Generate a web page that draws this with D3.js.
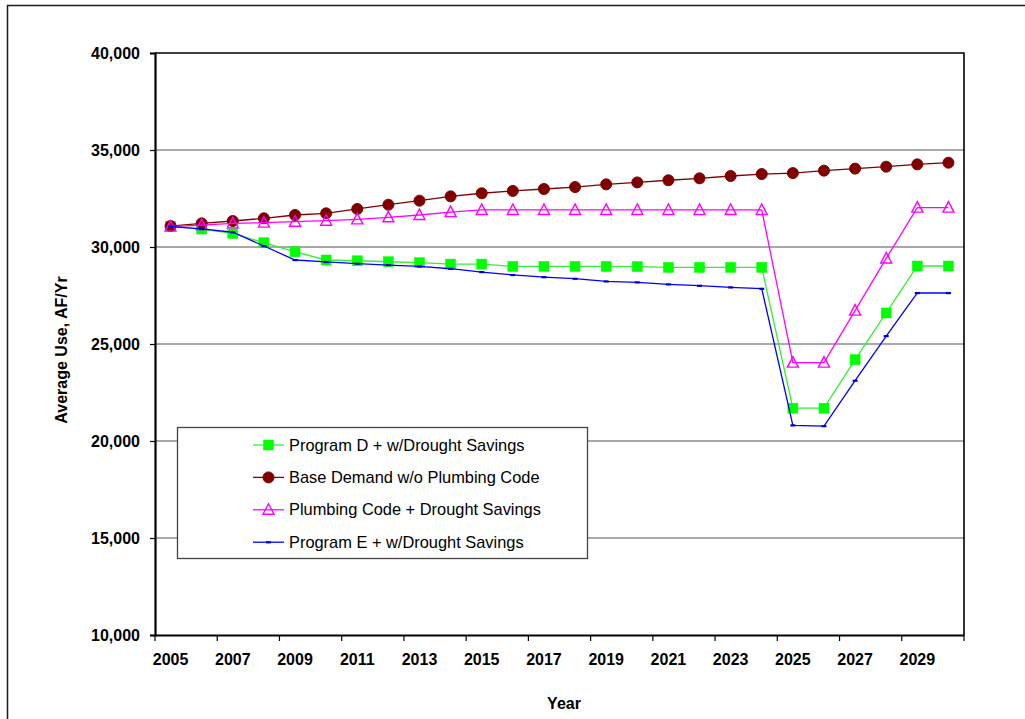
<!DOCTYPE html>
<html>
<head>
<meta charset="utf-8">
<script src="https://cdn.jsdelivr.net/npm/d3@7"></script>
<style>
  html, body { margin: 0; padding: 0; background: #fff; }
  svg { display: block; font-family: "Liberation Sans", Arial, Helvetica, sans-serif; }
</style>
</head>
<body>
<svg id="chart" width="1025" height="719"></svg>
<script>
// Annual average water use, 2005-2030 (AF/Yr)
const years = d3.range(2005, 2031);

const programD = [31080, 30925, 30700, 30220, 29755, 29330, 29290, 29240, 29190, 29120,
                  29120, 29000, 29000, 29000, 29000, 28990, 28950, 28950, 28950, 28950,
                  21690, 21690, 24190, 26600, 29020, 29020];

const baseDemand = [31080, 31220, 31340, 31480, 31650, 31735, 31960, 32180, 32390, 32610,
                    32770, 32890, 32990, 33090, 33230, 33330, 33440, 33540, 33660, 33760,
                    33810, 33935, 34040, 34140, 34260, 34345];

const plumbingCode = [31050, 31130, 31220, 31255, 31305, 31355, 31425, 31530, 31650, 31800,
                      31910, 31910, 31910, 31910, 31910, 31910, 31910, 31910, 31910, 31910,
                      24040, 24040, 26720, 29410, 32030, 32030];

const programE = [31050, 30930, 30760, 30050, 29330, 29230, 29140, 29070, 29000, 28880,
                  28710, 28560, 28450, 28365, 28230, 28180, 28075, 28005, 27920, 27850,
                  20810, 20770, 23110, 25410, 27630, 27630];

const yTicks = [10000, 15000, 20000, 25000, 30000, 35000, 40000];
const xLabelYears = years.filter((y, i) => i % 2 === 0);

const seriesNames = [
  "Program D + w/Drought Savings",
  "Base Demand w/o Plumbing Code",
  "Plumbing Code + Drought Savings",
  "Program E + w/Drought Savings"
];

const series = [
  { name: seriesNames[0], values: programD,     line: "#33ee33", marker: "square" },
  { name: seriesNames[1], values: baseDemand,   line: "#800000", marker: "circle" },
  { name: seriesNames[2], values: plumbingCode, line: "#ff00ff", marker: "triangle" },
  { name: seriesNames[3], values: programE,     line: "#0000ff", marker: "dash" }
];

const svg = d3.select("#chart");
const plot = { left: 155, right: 964, top: 53, bottom: 635 };

const x = d3.scaleBand().domain(years).range([plot.left, plot.right]).padding(0);
const y = d3.scaleLinear().domain([10000, 40000]).range([plot.bottom, plot.top]);
const cx = yr => x(yr) + x.bandwidth() / 2;

// outer chart frame (left and top edges)
svg.append("path")
  .attr("d", "M7.5,719 L7.5,5.5 L1025,5.5")
  .attr("fill", "none").attr("stroke", "#1a1a1a").attr("stroke-width", 1.5);

// horizontal gridlines
svg.append("g").selectAll("line")
  .data(yTicks.filter(v => v > 10000 && v < 40000))
  .join("line")
  .attr("x1", plot.left).attr("x2", plot.right)
  .attr("y1", d => y(d)).attr("y2", d => y(d))
  .attr("stroke", "#555").attr("stroke-width", 1.2);

// plot-area border: top and right
svg.append("path")
  .attr("d", `M${plot.left},${y(40000)} L${plot.right},${y(40000)} L${plot.right},${plot.bottom}`)
  .attr("fill", "none").attr("stroke", "#000").attr("stroke-width", 1.6);

// y axis
const yAxis = svg.append("g")
  .attr("transform", `translate(${plot.left},0)`)
  .call(d3.axisLeft(y).tickValues(yTicks).tickSize(5).tickPadding(10).tickFormat(d3.format(",")));
yAxis.select(".domain").attr("stroke", "#000").attr("stroke-width", 2.2);
yAxis.selectAll(".tick line").attr("stroke", "#000").attr("stroke-width", 1.2);
yAxis.selectAll("text").attr("font-size", 16).attr("font-weight", "bold").attr("fill", "#000")
  .attr("font-family", "Liberation Sans, Arial, sans-serif");

// x axis: labels under every other year, tick marks at category edges
const xAxis = svg.append("g")
  .attr("transform", `translate(0,${plot.bottom})`)
  .call(d3.axisBottom(x).tickValues(xLabelYears).tickSize(0).tickPadding(19));
xAxis.select(".domain").attr("stroke", "#000").attr("stroke-width", 2.2);
xAxis.selectAll("text").attr("font-size", 16).attr("font-weight", "bold").attr("fill", "#000")
  .attr("font-family", "Liberation Sans, Arial, sans-serif");

const edgeIdx = d3.range(0, years.length + 1, 2);
svg.append("g").selectAll("line")
  .data(edgeIdx)
  .join("line")
  .attr("x1", i => plot.left + i * x.step()).attr("x2", i => plot.left + i * x.step())
  .attr("y1", plot.bottom).attr("y2", plot.bottom + 6)
  .attr("stroke", "#000").attr("stroke-width", 1.2);

// axis titles
svg.append("text")
  .attr("x", 564).attr("y", 709)
  .attr("text-anchor", "middle")
  .attr("font-size", 16).attr("font-weight", "bold")
  .text("Year");

svg.append("text")
  .attr("transform", `translate(67,350) rotate(-90)`)
  .attr("text-anchor", "middle")
  .attr("font-size", 16).attr("font-weight", "bold")
  .text("Average Use, AF/Yr");

// marker drawing
function drawMarker(sel, kind) {
  if (kind === "square") {
    sel.append("rect").attr("x", -5).attr("y", -5).attr("width", 10).attr("height", 10)
      .attr("fill", "#00ff00").attr("stroke", "#00ff00").attr("stroke-width", 0.5);
  } else if (kind === "circle") {
    sel.append("circle").attr("r", 5.5).attr("fill", "#800000").attr("stroke", "#800000");
  } else if (kind === "triangle") {
    sel.append("path").attr("d", "M0,-6 L5.5,4.5 L-5.5,4.5 Z")
      .attr("fill", "none").attr("stroke", "#ff00ff").attr("stroke-width", 1.4);
  } else if (kind === "dash") {
    sel.append("rect").attr("x", -2.5).attr("y", -1).attr("width", 5).attr("height", 2.2)
      .attr("fill", "#0000cc");
  }
}

const line = d3.line().x((d, i) => cx(years[i])).y(d => y(d));

series.forEach(s => {
  const g = svg.append("g");
  g.append("path")
    .attr("d", line(s.values))
    .attr("fill", "none").attr("stroke", s.line).attr("stroke-width", 1.3);
  g.selectAll("g.m")
    .data(s.values)
    .join("g").attr("class", "m")
    .attr("transform", (d, i) => `translate(${cx(years[i])},${y(d)})`)
    .each(function () { drawMarker(d3.select(this), s.marker); });
});

// legend
const legend = svg.append("g");
legend.append("rect")
  .attr("x", 177.5).attr("y", 427.5).attr("width", 410).attr("height", 131)
  .attr("fill", "#fff").attr("stroke", "#444").attr("stroke-width", 1.3);

series.forEach((s, i) => {
  const cy = 445 + i * 32.4;
  const row = legend.append("g");
  row.append("line").attr("x1", 253).attr("x2", 284).attr("y1", cy).attr("y2", cy)
    .attr("stroke", s.line).attr("stroke-width", 1.3);
  drawMarker(row.append("g").attr("transform", `translate(268.5,${cy})`), s.marker);
  row.append("text").attr("x", 289).attr("y", cy + 5.5)
    .attr("font-size", 16.4).attr("fill", "#000")
    .text(s.name);
});
</script>
</body>
</html>
